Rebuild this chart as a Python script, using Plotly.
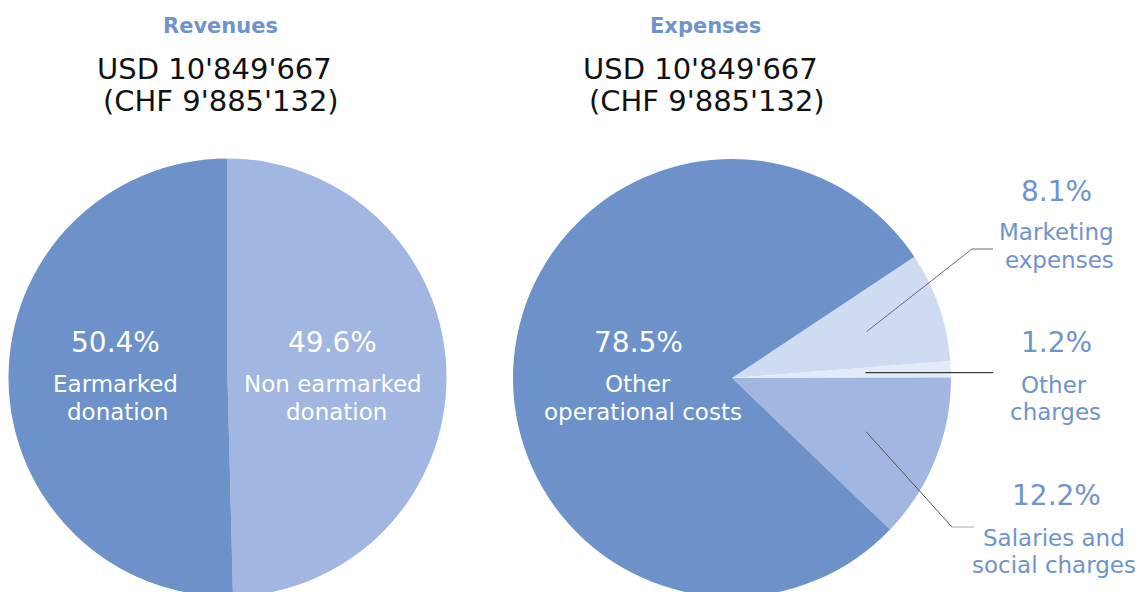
import math
import plotly.graph_objects as go

# ---------------- data ----------------
rev_labels = ["Non earmarked donation", "Earmarked donation"]
rev_values = [49.6, 50.4]
exp_labels = ["Marketing expenses", "Other charges", "Salaries and social charges", "Other operational costs"]
exp_values = [8.1, 1.2, 12.2, 78.5]
titles = ["Revenues", "Expenses"]
usd_text = "USD 10'849'667"
chf_text = "(CHF 9'885'132)"

# ---------------- style ----------------
DARK = "#6d91c9"
LIGHT = "#a1b6e0"
PALE = "#cfdbf1"
PALEST = "#e4ebf8"
TXT = "#6f93cc"
FONT = "DejaVu Sans"
rev_colors = [LIGHT, DARK]
exp_colors = [PALE, PALEST, LIGHT, DARK]

W, H = 1143, 592
OFF = 8  # default page body margin; positions below are page pixels
R = 219
rev_cx, rev_cy = 227.5, 377.5
exp_cx, exp_cy = 732, 378
rev_rot = 0
exp_rot = 56.4


def px(x):
    return (x - OFF) / W


def py(y):
    return 1 - (y - OFF) / H


def dom(cx, cy):
    return dict(x=[px(cx - R), px(cx + R)], y=[py(cy + R), py(cy - R)])


fig = go.Figure()
fig.add_trace(go.Pie(
    labels=rev_labels, values=rev_values, sort=False, direction="clockwise",
    rotation=rev_rot, marker=dict(colors=rev_colors, line=dict(width=0)),
    textinfo="none", hoverinfo="label+percent",
    domain=dom(rev_cx, rev_cy), showlegend=False,
))
fig.add_trace(go.Pie(
    labels=exp_labels, values=exp_values, sort=False, direction="clockwise",
    rotation=exp_rot, marker=dict(colors=exp_colors, line=dict(width=0)),
    textinfo="none", hoverinfo="label+percent",
    domain=dom(exp_cx, exp_cy), showlegend=False,
))

annotations = []


def ann(x, y, text, size, color, bold=False):
    annotations.append(dict(
        x=px(x), y=py(y), xref="paper", yref="paper",
        text=(f"<b>{text}</b>" if bold else text),
        showarrow=False, xanchor="center", yanchor="middle",
        font=dict(family=FONT, size=size, color=color),
    ))


def pct(v, total):
    return f"{100 * v / sum(total):.1f}%"


PS, LS = 28, 23  # percentage / label font sizes

# titles
ann(220.5, 25.5, titles[0], 21, TXT, bold=True)
ann(705, 25.5, titles[1], 21, TXT, bold=True)
ann(214, 69, usd_text, 29, "#111111")
ann(220.5, 101, chf_text, 29, "#111111")
ann(700, 69, usd_text, 29, "#111111")
ann(706.5, 101, chf_text, 29, "#111111")

# inside labels
ann(115, 342, pct(rev_values[1], rev_values), PS, "white")
ann(115.5, 383.5, "Earmarked", LS, "white")
ann(117.5, 411.5, "donation", LS, "white")
ann(332.5, 342, pct(rev_values[0], rev_values), PS, "white")
ann(332.5, 383.5, "Non earmarked", LS, "white")
ann(336, 411.5, "donation", LS, "white")
ann(638, 342, pct(exp_values[3], exp_values), PS, "white")
ann(637.5, 383.5, "Other", LS, "white")
ann(642.5, 411.5, "operational costs", LS, "white")

# outside labels
ann(1056, 191.5, pct(exp_values[0], exp_values), PS, TXT)
ann(1056.5, 231.5, "Marketing", LS, TXT)
ann(1059, 259.5, "expenses", LS, TXT)
ann(1056, 342.5, pct(exp_values[1], exp_values), PS, TXT)
ann(1053.5, 384.5, "Other", LS, TXT)
ann(1055.5, 412.5, "charges", LS, TXT)
ann(1056, 495, pct(exp_values[2], exp_values), PS, TXT)
ann(1053.5, 537.5, "Salaries and", LS, TXT)
ann(1054, 564.5, "social charges", LS, TXT)


# leader lines from slice middles
def slice_mid(values, idx, rot, cx, cy, frac):
    tot = sum(values)
    cum = sum(values[:idx]) + values[idx] / 2
    a = math.radians(rot + 360 * cum / tot)
    r = R * frac
    return cx + r * math.sin(a), cy - r * math.cos(a)


shapes = []


def seg(x0, y0, x1, y1, color):
    shapes.append(dict(type="line", xref="paper", yref="paper",
                       x0=px(x0), y0=py(y0), x1=px(x1), y1=py(y1),
                       line=dict(color=color, width=1)))


sx, sy = slice_mid(exp_values, 0, exp_rot, exp_cx, exp_cy, 0.65)
seg(sx, sy, 972, 249, "#6b6b6b")
seg(972, 249, 993, 249, "#6b6b6b")
sx, sy = slice_mid(exp_values, 1, exp_rot, exp_cx, exp_cy, 0.61)
seg(sx, sy, 993, sy, "#111111")
sx, sy = slice_mid(exp_values, 2, exp_rot, exp_cx, exp_cy, 0.66)
seg(sx, sy, 952, 527, "#555555")
seg(952, 527, 974, 527, "#aaaaaa")

fig.update_layout(
    width=W, height=H,
    margin=dict(l=0, r=0, t=0, b=0),
    paper_bgcolor="white", plot_bgcolor="white",
    annotations=annotations, shapes=shapes,
)

fig.write_html("out.html")
